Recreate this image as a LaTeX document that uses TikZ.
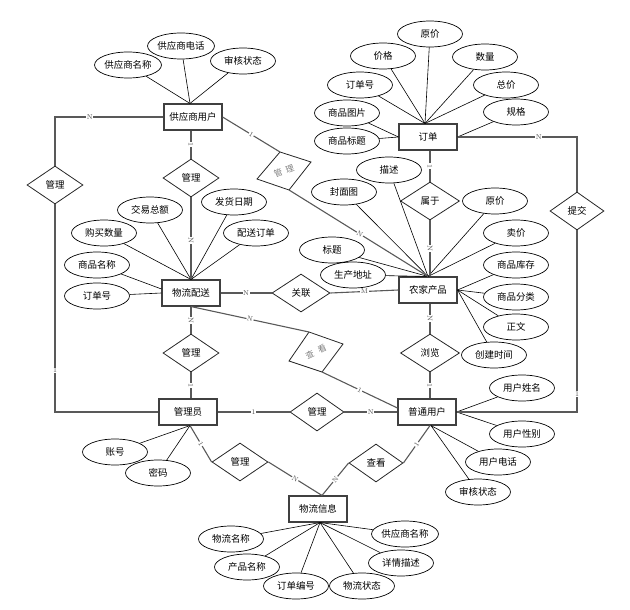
\documentclass[tikz,border=0pt]{standalone}
\usepackage{fontspec}
\newfontfamily\cjk{Noto Sans CJK SC}
\usetikzlibrary{shapes.geometric}
\begin{document}
\begin{tikzpicture}[x=1bp,y=-1bp,
  every node/.style={font=\cjk\fontsize{9.5}{11}\selectfont},
  ent/.style={draw=black!75, line width=1.1bp, rectangle, minimum width=58bp, minimum height=26bp, inner sep=0pt},
  rel/.style={draw=black!85, line width=0.8bp, diamond, minimum width=56bp, minimum height=38bp, inner sep=0pt},
  rrel/.style={draw=black!85, line width=0.8bp},
  rtext/.style={text=black!50, inner sep=0pt, font=\cjk\fontsize{8.5}{10}\selectfont},
  attr/.style={draw=black, line width=0.7bp, ellipse, minimum width=65bp, minimum height=26bp, inner sep=0pt},
  conn/.style={draw=black!65, line width=1.1bp},
  al/.style={draw=black, line width=0.6bp},
  card/.style={font=\rmfamily\fontsize{7}{8}\selectfont, fill=white, inner sep=0.6bp, text=black!70},
]
\useasboundingbox (0,0) rectangle (630,610);

% entities
\node[ent] (sup) at (193,117) {供应商用户};
\node[ent] (ord) at (428,137) {订单};
\node[ent] (del) at (191,293) {物流配送};
\node[ent] (prod) at (428,290) {农家产品};
\node[ent] (adm) at (188,412) {管理员};
\node[ent] (usr) at (427,412) {普通用户};
\node[ent] (info) at (318,509) {物流信息};

% relationships
\node[rel] (rA) at (55,185) {管理};
\node[rel] (rB) at (191,178) {管理};
\node[rel, minimum width=59bp] (rD) at (430,201) {属于};
\node[rel, minimum width=54bp] (rE) at (577,211) {提交};
\node[rel, minimum width=58bp] (rF) at (301,293) {关联};
\node[rel] (rG) at (191,353) {管理};
\node[rel, minimum width=59bp] (rI) at (430,353) {浏览};
\node[rel, minimum width=54bp] (rJ) at (317,412) {管理};
\node[rel] (rK) at (240,462) {管理};
\node[rel, minimum width=54bp] (rL) at (376,463) {查看};

% rotated relationships
\coordinate (rCa) at (280,152);
\coordinate (rCb) at (311,162);
\coordinate (rCc) at (289,190);
\coordinate (rCd) at (257,179);
\draw[rrel] (rCa) -- (rCb) -- (rCc) -- (rCd) -- cycle;
\node[rtext, rotate=20] (rC) at (284,171) {管\hspace{4bp}理};
\coordinate (rHa) at (309,332);
\coordinate (rHb) at (343,344);
\coordinate (rHc) at (322,372);
\coordinate (rHd) at (289,361);
\draw[rrel] (rHa) -- (rHb) -- (rHc) -- (rHd) -- cycle;
\node[rtext, rotate=25] (rH) at (316,352) {查\hspace{5bp}看};

% attributes of 供应商用户
\node[attr] (s1) at (128,65) {供应商名称};
\node[attr] (s2) at (181,46) {供应商电话};
\node[attr] (s3) at (243,61) {审核状态};
\foreach \a in {s1,s2,s3} \draw[al] (\a) -- ([xshift=-3bp]sup.north);

% attributes of 订单
\node[attr] (o1) at (430,34) {原价};
\node[attr] (o2) at (383,56) {价格};
\node[attr] (o3) at (485,57) {数量};
\node[attr] (o4) at (360,85) {订单号};
\node[attr] (o5) at (506,85) {总价};
\node[attr] (o6) at (347,113) {商品图片};
\node[attr] (o7) at (516,112) {规格};
\node[attr] (o8) at (347,141) {商品标题};
\foreach \a in {o1,o2,o3,o4,o5} \draw[al] (\a) -- ([xshift=-3bp]ord.north);
\draw[al] (o6) -- (ord.west);
\draw[al] (o8) -- (ord.west);
\draw[al] (o7) -- (ord.east);

% attributes of 物流配送
\node[attr] (d1) at (150,210) {交易总额};
\node[attr] (d2) at (234,202) {发货日期};
\node[attr] (d3) at (104,233) {购买数量};
\node[attr] (d4) at (256,233) {配送订单};
\node[attr] (d5) at (97,265) {商品名称};
\node[attr] (d6) at (97,296) {订单号};
\foreach \a in {d1,d2,d3,d4} \draw[al] (\a) -- (del.north);
\draw[al] (d5) -- ([yshift=4bp]del.west);
\draw[al] (d6) -- (del.west);

% attributes of 农家产品
\node[attr] (p1) at (389,170) {描述};
\node[attr] (p2) at (344,192) {封面图};
\node[attr] (p3) at (495,201) {原价};
\node[attr] (p4) at (332,250) {标题};
\node[attr] (p5) at (516,233) {卖价};
\node[attr] (p6) at (353,275) {生产地址};
\node[attr] (p7) at (516,265) {商品库存};
\node[attr] (p8) at (516,297) {商品分类};
\node[attr] (p9) at (516,327) {正文};
\node[attr] (p10) at (494,355) {创建时间};
\foreach \a in {p1,p2,p3,p4,p5,p6} \draw[al] (\a) -- (prod.north);
\foreach \a in {p7,p8,p9,p10} \draw[al] (\a) -- (prod.east);

% attributes of 普通用户
\node[attr] (u1) at (522,388) {用户姓名};
\node[attr] (u2) at (522,434) {用户性别};
\node[attr] (u3) at (498,462) {用户电话};
\node[attr] (u4) at (478,492) {审核状态};
\draw[al] (u1) -- (usr.east);
\draw[al] (u2) -- (usr.east);
\draw[al] (u3) -- ([xshift=4bp]usr.south);
\draw[al] (u4) -- ([xshift=4bp]usr.south);

% attributes of 管理员
\node[attr] (m1) at (115,452) {账号};
\node[attr] (m2) at (158,473) {密码};
\draw[al] (m1) -- ([xshift=2bp]adm.south);
\draw[al] (m2) -- ([xshift=2bp]adm.south);

% attributes of 物流信息
\node[attr] (i1) at (231,539) {物流名称};
\node[attr] (i2) at (247,567) {产品名称};
\node[attr] (i3) at (296,586) {订单编号};
\node[attr] (i4) at (362,586) {物流状态};
\node[attr] (i5) at (405,534) {供应商名称};
\node[attr] (i6) at (401,563) {详情描述};
\foreach \a in {i1,i2,i3,i4,i5,i6} \draw[al] (\a) -- ([xshift=2bp]info.south);

% connectors
\draw[conn] (sup.west) -| (rA.north) node[card, pos=0.34] {N};
\draw[conn] (rA.south) |- (adm.west) node[card, pos=0.40] {1};
\draw[conn] (rB.north |- sup.south) -- (rB.north) node[card, sloped, midway] {1};
\draw[conn] (rB.south) -- (rB.south |- del.north) node[card, sloped, pos=0.52] {N};
\draw[conn] (sup.east) -- (rCa) node[card, sloped, midway] {1};
\draw[conn] (rCc) -- (prod.north) node[card, sloped, pos=0.51] {N};
\draw[conn] (ord.east) -| (rE.north) node[card, pos=0.34] {N};
\draw[conn] (rE.south) |- (usr.east) node[card, pos=0.45] {1};
\draw[conn] (rD.north |- ord.south) -- (rD.north) node[card, sloped, midway] {1};
\draw[conn] (rD.south) -- (rD.south |- prod.north) node[card, sloped, midway] {N};
\draw[conn] (del.east) -- (rF.west) node[card, midway] {N};
\draw[conn] (rF.east) -- (prod.west) node[card, midway] {M};
\draw[conn] (rG.north |- del.south) -- (rG.north) node[card, sloped, midway] {N};
\draw[conn] (rG.south) -- (rG.south |- adm.north) node[card, sloped, midway] {1};
\draw[conn] (rG.north |- del.south) -- (rHa) node[card, sloped, midway] {N};
\draw[conn] (rHc) -- ([yshift=4bp]usr.west) node[card, sloped, midway] {1};
\draw[conn] (rI.north |- prod.south) -- (rI.north) node[card, sloped, midway] {N};
\draw[conn] (rI.south) -- (rI.south |- usr.north) node[card, sloped, midway] {1};
\draw[conn] (adm.east) -- (rJ.west) node[card, midway] {1};
\draw[conn] (rJ.east) -- (usr.west) node[card, midway] {N};
\draw[conn] ([xshift=2bp]adm.south) -- (rK.west) node[card, sloped, midway] {1};
\draw[conn] (rK.east) -- ([xshift=4bp]info.north) node[card, sloped, midway] {N};
\draw[conn] ([xshift=4bp]info.north) -- (rL.west) node[card, sloped, midway] {N};
\draw[conn] (rL.east) -- ([xshift=3bp]usr.south) node[card, sloped, midway] {1};
\end{tikzpicture}
\end{document}
